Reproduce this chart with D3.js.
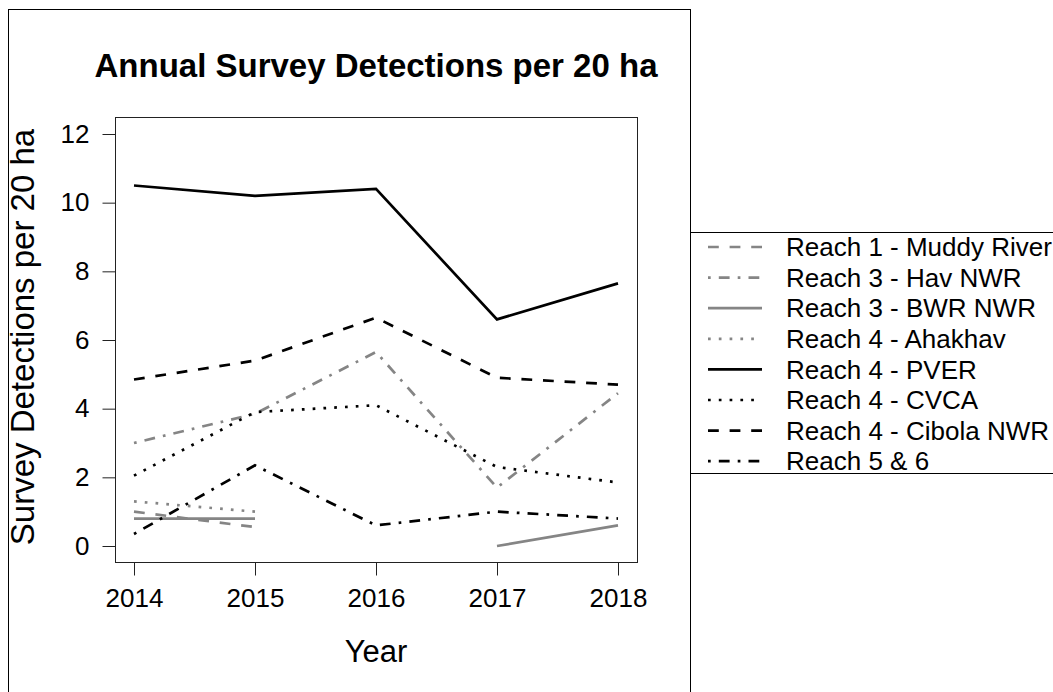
<!DOCTYPE html>
<html>
<head>
<meta charset="utf-8">
<script src="https://cdn.jsdelivr.net/npm/d3@7"></script>
<style>
  html, body { margin: 0; padding: 0; background: #fff; }
  svg { display: block; font-family: "Liberation Sans", Arial, sans-serif; }
</style>
</head>
<body>
<svg id="chart" width="1053" height="692"></svg>
<script>
// Survey years
const years = [2014, 2015, 2016, 2017, 2018];
const yTicks = [0, 2, 4, 6, 8, 10, 12];

// Detections per 20 ha by site (null = not surveyed)
const muddyRiver = [1.0, 0.55, null, null, null];
const havNWR     = [3.0, 3.85, 5.65, 1.7, 4.45];
const bwrNWR     = [0.8, 0.8, null, 0.0, 0.6];
const ahakhav    = [1.3, 1.0, null, null, null];
const pver       = [10.5, 10.2, 10.4, 6.6, 7.65];
const cvca       = [2.05, 3.9, 4.1, 2.3, 1.85];
const cibolaNWR  = [4.85, 5.4, 6.65, 4.9, 4.7];
const reach56    = [0.35, 2.35, 0.6, 1.0, 0.8];

const seriesNames = [
  "Reach 1 - Muddy River", "Reach 3 - Hav NWR", "Reach 3 - BWR NWR", "Reach 4 - Ahakhav",
  "Reach 4 - PVER", "Reach 4 - CVCA", "Reach 4 - Cibola NWR", "Reach 5 & 6"
];
const seriesValues = [muddyRiver, havNWR, bwrNWR, ahakhav, pver, cvca, cibolaNWR, reach56];

const GREY = "#858585";
const LW = 2.7;
// dash patterns in line-width units (R lty conventions)
const lty = {
  solid: null,
  dashed: [4, 4],
  dotted: [1, 3],
  dotdash: [1, 3, 4, 3]
};
const seriesStyle = [
  { color: GREY,   lty: "dashed" },
  { color: GREY,   lty: "dotdash" },
  { color: GREY,   lty: "solid" },
  { color: GREY,   lty: "dotted" },
  { color: "#000", lty: "solid" },
  { color: "#000", lty: "dotted" },
  { color: "#000", lty: "dashed" },
  { color: "#000", lty: "dotdash" }
];
const dashOf = k => lty[k] ? lty[k].map(v => v * LW).join(",") : null;

const svg = d3.select("#chart");

// outer figure frame
svg.append("rect").attr("x", 8.5).attr("y", 9.5).attr("width", 682).attr("height", 700)
  .attr("fill", "none").attr("stroke", "#000").attr("stroke-width", 1);

// plot region
const box = { left: 115, right: 637, top: 117, bottom: 562 };
const x = d3.scaleLinear().domain([2014, 2018]).range([134, 618]);
const y = d3.scaleLinear().domain([0, 12]).range([546, 134]);

svg.append("rect")
  .attr("x", box.left + 0.5).attr("y", box.top + 0.5)
  .attr("width", box.right - box.left).attr("height", box.bottom - box.top)
  .attr("fill", "none").attr("stroke", "#222").attr("stroke-width", 1);

// axes
const yAxis = d3.axisLeft(y).tickValues(yTicks).tickSize(13).tickPadding(13).tickFormat(d3.format("d"));
const gy = svg.append("g").attr("transform", `translate(${box.left + 0.5},0)`).call(yAxis);
gy.select(".domain").remove();
gy.selectAll(".tick line").attr("stroke", "#222");
gy.selectAll("text").attr("font-size", 26).attr("fill", "#000")
  .attr("font-family", "Liberation Sans, Arial, sans-serif");

const xAxis = d3.axisBottom(x).tickValues(years).tickSize(13).tickPadding(13).tickFormat(d3.format("d"));
const gx = svg.append("g").attr("transform", `translate(0,${box.bottom + 0.5})`).call(xAxis);
gx.select(".domain").remove();
gx.selectAll(".tick line").attr("stroke", "#222");
gx.selectAll("text").attr("font-size", 26).attr("fill", "#000")
  .attr("font-family", "Liberation Sans, Arial, sans-serif");

// series lines
const line = d3.line()
  .defined(d => d.v !== null)
  .x(d => x(d.year))
  .y(d => y(d.v));

seriesValues.forEach((vals, i) => {
  const pts = years.map((yr, j) => ({ year: yr, v: vals[j] }));
  svg.append("path")
    .datum(pts)
    .attr("d", line)
    .attr("fill", "none")
    .attr("stroke", seriesStyle[i].color)
    .attr("stroke-width", LW)
    .attr("stroke-dasharray", dashOf(seriesStyle[i].lty));
});

// titles
svg.append("text").attr("x", 376).attr("y", 77).attr("text-anchor", "middle")
  .attr("font-size", 33).attr("font-weight", "bold").text("Annual Survey Detections per 20 ha");
svg.append("text").attr("x", 376).attr("y", 662).attr("text-anchor", "middle")
  .attr("font-size", 31).text("Year");
svg.append("text").attr("transform", "translate(34,337) rotate(-90)").attr("text-anchor", "middle")
  .attr("font-size", 33).text("Survey Detections per 20 ha");

// legend
const legend = { left: 690, top: 232, bottom: 473 };
svg.append("rect").attr("x", legend.left + 0.5).attr("y", legend.top + 0.5)
  .attr("width", 500).attr("height", legend.bottom - legend.top)
  .attr("fill", "#fff").attr("stroke", "#000").attr("stroke-width", 1);
const rowH = 30.6;
const firstRow = 247;
const lg = svg.append("g");
seriesNames.forEach((name, i) => {
  const cy = firstRow + rowH * i;
  lg.append("line").attr("x1", 708).attr("x2", 762).attr("y1", cy).attr("y2", cy)
    .attr("stroke", seriesStyle[i].color).attr("stroke-width", LW)
    .attr("stroke-dasharray", dashOf(seriesStyle[i].lty));
  lg.append("text").attr("x", 786).attr("y", cy).attr("dy", "0.35em")
    .attr("font-size", 26).text(name);
});
</script>
</body>
</html>
